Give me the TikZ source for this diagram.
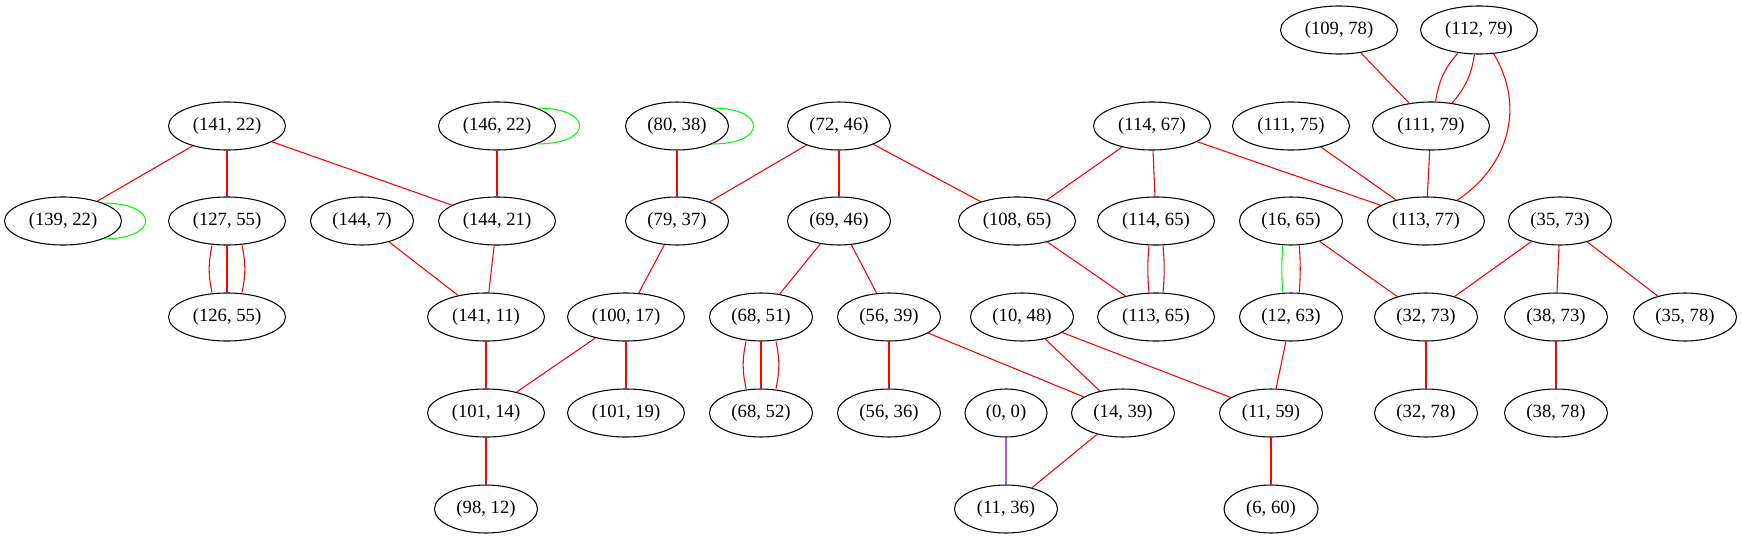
\documentclass[tikz,border=0pt]{standalone}
\usepackage{fontspec}
\setmainfont{Liberation Serif}
\usetikzlibrary{shapes.geometric}
\definecolor{gvgreen}{RGB}{0,255,0}
\definecolor{gvpurple}{RGB}{172,85,242}
\begin{document}
\begin{tikzpicture}[x=0.75pt,y=-0.75pt,
  nd/.style={draw=black,ellipse,line width=0.8pt,minimum height=36pt,inner sep=0pt,font=\fontsize{14}{16}\selectfont},
  dfive/.style={nd,minimum width=87.75pt},
  dfour/.style={nd,minimum width=77.25pt},
  dthree/.style={nd,minimum width=70.5pt},
  dtwo/.style={nd,minimum width=61.5pt},
  rl/.style={draw=red,line width=0.8pt},
  gl/.style={draw=gvgreen,line width=0.8pt},
  pl/.style={draw=gvpurple,line width=0.8pt}]
\useasboundingbox (0,0) rectangle (1742,539);
% rank 0
\node[dfive] (n109_78) at (1339,30) {(109, 78)};
\node[dfive] (n112_79) at (1479,30) {(112, 79)};
% rank 1
\node[dfive] (n141_22) at (227,126) {(141, 22)};
\node[dfive] (n146_22) at (497,126) {(146, 22)};
\node[dfour] (n80_38) at (677,126) {(80, 38)};
\node[dfour] (n72_46) at (839,126) {(72, 46)};
\node[dfive] (n114_67) at (1152,126) {(114, 67)};
\node[dfive] (n111_75) at (1291,126) {(111, 75)};
\node[dfive] (n111_79) at (1431,126) {(111, 79)};
% rank 2
\node[dfive] (n139_22) at (63,221) {(139, 22)};
\node[dfive] (n127_55) at (227,221) {(127, 55)};
\node[dfour] (n144_7) at (362,221) {(144, 7)};
\node[dfive] (n144_21) at (497,221) {(144, 21)};
\node[dfour] (n79_37) at (677,221) {(79, 37)};
\node[dfour] (n69_46) at (839,221) {(69, 46)};
\node[dfive] (n108_65) at (1017,221) {(108, 65)};
\node[dfive] (n114_65) at (1156,221) {(114, 65)};
\node[dfour] (n16_65) at (1291,221) {(16, 65)};
\node[dfive] (n113_77) at (1426,221) {(113, 77)};
\node[dfour] (n35_73) at (1560,221) {(35, 73)};
% rank 3
\node[dfive] (n126_55) at (227,317) {(126, 55)};
\node[dfive] (n141_11) at (486,317) {(141, 11)};
\node[dfive] (n100_17) at (626,317) {(100, 17)};
\node[dfour] (n68_51) at (761,317) {(68, 51)};
\node[dfour] (n56_39) at (889,317) {(56, 39)};
\node[dfour] (n10_48) at (1022,317) {(10, 48)};
\node[dfive] (n113_65) at (1156,317) {(113, 65)};
\node[dfour] (n12_63) at (1291,317) {(12, 63)};
\node[dfour] (n32_73) at (1426,317) {(32, 73)};
\node[dfour] (n38_73) at (1556,317) {(38, 73)};
\node[dfour] (n35_78) at (1685,317) {(35, 78)};
% rank 4
\node[dfive] (n101_14) at (486,413) {(101, 14)};
\node[dfive] (n101_19) at (626,413) {(101, 19)};
\node[dfour] (n68_52) at (761,413) {(68, 52)};
\node[dfour] (n56_36) at (889,413) {(56, 36)};
\node[dtwo] (n0_0) at (1006,413) {(0, 0)};
\node[dfour] (n14_39) at (1123,413) {(14, 39)};
\node[dfour] (n11_59) at (1271,413) {(11, 59)};
\node[dfour] (n32_78) at (1426,413) {(32, 78)};
\node[dfour] (n38_78) at (1556,413) {(38, 78)};
% rank 5
\node[dfour] (n98_12) at (486,509) {(98, 12)};
\node[dfour] (n11_36) at (1006,509) {(11, 36)};
\node[dthree] (n6_60) at (1271,509) {(6, 60)};
% edges
\draw[rl] (n109_78) -- (n111_79);
\draw[rl] (n112_79) to[bend left=16] (n111_79);
\draw[rl] (n112_79) to[bend right=16] (n111_79);
\draw[rl] (n112_79) .. controls (1525,105) and (1510,165) .. (n113_77);
\draw[rl] (n141_22) -- (n139_22);
\draw[rl] (n141_22) -- (n127_55);
\draw[rl] (n141_22) -- (n144_21);
\draw[gl] (n139_22.24) .. controls +(56.5,0) and +(56.5,0) .. (n139_22.-24);
\draw[gl] (n146_22.24) .. controls +(56.5,0) and +(56.5,0) .. (n146_22.-24);
\draw[gl] (n80_38.27) .. controls +(55,0) and +(55,0) .. (n80_38.-27);
\draw[rl] (n146_22) -- (n144_21);
\draw[rl] (n80_38) -- (n79_37);
\draw[rl] (n72_46) -- (n79_37);
\draw[rl] (n72_46) -- (n69_46);
\draw[rl] (n72_46) -- (n108_65);
\draw[rl] (n114_67) -- (n108_65);
\draw[rl] (n114_67) -- (n114_65);
\draw[rl] (n114_67) -- (n113_77);
\draw[rl] (n111_75) -- (n113_77);
\draw[rl] (n111_79) -- (n113_77);
\draw[rl] (n127_55) -- (n126_55);
\draw[rl] ([xshift=-11.25pt]n127_55.south) to[bend right=12] ([xshift=-11.25pt]n126_55.north);
\draw[rl] ([xshift=11.25pt]n127_55.south) to[bend left=12] ([xshift=11.25pt]n126_55.north);
\draw[rl] (n144_7) -- (n141_11);
\draw[rl] (n144_21) -- (n141_11);
\draw[rl] (n79_37) -- (n100_17);
\draw[rl] (n69_46) -- (n68_51);
\draw[rl] (n69_46) -- (n56_39);
\draw[rl] (n108_65) -- (n113_65);
\draw[rl] ([xshift=-5.25pt]n114_65.south) to[bend right=5] ([xshift=-5.25pt]n113_65.north);
\draw[rl] ([xshift=5.25pt]n114_65.south) to[bend left=5] ([xshift=5.25pt]n113_65.north);
\draw[gl] ([xshift=-6.2pt]n16_65.south) to[bend right=4] ([xshift=-6.2pt]n12_63.north);
\draw[rl] ([xshift=6.2pt]n16_65.south) to[bend left=4] ([xshift=6.2pt]n12_63.north);
\draw[rl] (n16_65) -- (n32_73);
\draw[rl] (n35_73) -- (n32_73);
\draw[rl] (n35_73) -- (n38_73);
\draw[rl] (n35_73) -- (n35_78);
\draw[rl] (n141_11) -- (n101_14);
\draw[rl] (n100_17) -- (n101_14);
\draw[rl] (n100_17) -- (n101_19);
\draw[rl] (n68_51) -- (n68_52);
\draw[rl] ([xshift=-11.25pt]n68_51.south) to[bend right=12] ([xshift=-11.25pt]n68_52.north);
\draw[rl] ([xshift=11.25pt]n68_51.south) to[bend left=12] ([xshift=11.25pt]n68_52.north);
\draw[rl] (n56_39) -- (n56_36);
\draw[rl] (n56_39) -- (n14_39);
\draw[rl] (n10_48) -- (n14_39);
\draw[rl] (n10_48) -- (n11_59);
\draw[rl] (n12_63) -- (n11_59);
\draw[rl] (n32_73) -- (n32_78);
\draw[rl] (n38_73) -- (n38_78);
\draw[rl] (n101_14) -- (n98_12);
\draw[pl] (n0_0) -- (n11_36);
\draw[rl] (n14_39) -- (n11_36);
\draw[rl] (n11_59) -- (n6_60);
\end{tikzpicture}
\end{document}
